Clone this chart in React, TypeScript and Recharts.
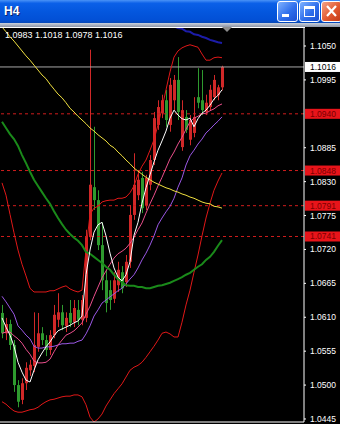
import { ComposedChart, Bar, Line, XAxis, YAxis, ReferenceLine } from 'recharts';

// 76 bar slots fit the plot (4px each); bars only fill the first 56, the rest is chart shift
const SLOT_COUNT = 76;

const candleOpen = [
  1.0617, 1.0584, 1.0599, 1.0565, 1.0500, 1.0476, 1.0503, 1.0524, 1.0531, 1.0562,
  1.0584, 1.0573, 1.0557, 1.0581, 1.0606, 1.0618, 1.0596, 1.0617, 1.0602, 1.0622,
  1.0606, 1.0609, 1.0740, 1.0821, 1.0800, 1.0727, 1.0670, 1.0654, 1.0640, 1.0662,
  1.0683, 1.0667, 1.0700, 1.0776, 1.0808, 1.0836, 1.0792, 1.0825, 1.0865, 1.0922,
  1.0941, 1.0962, 1.0922, 1.0962, 1.0995, 1.0886, 1.0935, 1.0898, 1.0909, 1.0967,
  1.0962, 1.0943, 1.0951, 1.0967, 1.0970, 1.0983
];
const candleHigh = [
  1.0630, 1.0609, 1.0606, 1.0573, 1.0508, 1.0511, 1.0537, 1.0541, 1.0618, 1.0617,
  1.0594, 1.0581, 1.0589, 1.0630, 1.0649, 1.0630, 1.0618, 1.0638, 1.0638, 1.0638,
  1.0646, 1.0752, 1.1044, 1.0919, 1.0816, 1.0764, 1.0687, 1.0670, 1.0683, 1.0700,
  1.0693, 1.0711, 1.0792, 1.0876, 1.0849, 1.0846, 1.0841, 1.0873, 1.0943, 1.0962,
  1.0971, 1.0979, 1.0998, 1.1003, 1.1032, 1.0962, 1.0946, 1.0938, 1.0967, 1.1014,
  1.1011, 1.0971, 1.0987, 1.1003, 1.0987, 1.1018
];
const candleLow = [
  1.0576, 1.0573, 1.0557, 1.0489, 1.0464, 1.0469, 1.0492, 1.0515, 1.0521, 1.0554,
  1.0565, 1.0547, 1.0549, 1.0576, 1.0594, 1.0589, 1.0586, 1.0594, 1.0594, 1.0597,
  1.0597, 1.0602, 1.0735, 1.0784, 1.0719, 1.0654, 1.0618, 1.0622, 1.0633, 1.0651,
  1.0649, 1.0659, 1.0690, 1.0768, 1.0800, 1.0779, 1.0784, 1.0816, 1.0857, 1.0914,
  1.0933, 1.0919, 1.0911, 1.0946, 1.0930, 1.0880, 1.0909, 1.0889, 1.0902, 1.0949,
  1.0938, 1.0938, 1.0946, 1.0962, 1.0962, 1.0978
];
const candleClose = [
  1.0584, 1.0599, 1.0565, 1.0500, 1.0473, 1.0503, 1.0528, 1.0533, 1.0565, 1.0584,
  1.0573, 1.0557, 1.0581, 1.0614, 1.0618, 1.0597, 1.0609, 1.0601, 1.0625, 1.0606,
  1.0638, 1.0740, 1.0825, 1.0800, 1.0727, 1.0670, 1.0633, 1.0638, 1.0670, 1.0687,
  1.0657, 1.0700, 1.0776, 1.0825, 1.0833, 1.0787, 1.0836, 1.0865, 1.0933, 1.0951,
  1.0962, 1.0930, 1.0987, 1.0995, 1.0943, 1.0946, 1.0914, 1.0930, 1.0935, 1.0958,
  1.0946, 1.0958, 1.0979, 1.0995, 1.0983, 1.1016
];

// indicator lines, one value per bar
const maWhite = [
  1.0609, 1.0594, 1.0581, 1.0563, 1.0537, 1.0521, 1.0508, 1.0505, 1.0524, 1.0541,
  1.0552, 1.0562, 1.0570, 1.0580, 1.0588, 1.0591, 1.0594, 1.0597, 1.0601, 1.0604,
  1.0612, 1.0679, 1.0719, 1.0748, 1.0760, 1.0764, 1.0742, 1.0714, 1.0690, 1.0675,
  1.0669, 1.0679, 1.0700, 1.0743, 1.0764, 1.0795, 1.0820, 1.0841, 1.0862, 1.0881,
  1.0896, 1.0912, 1.0933, 1.0946, 1.0938, 1.0932, 1.0930, 1.0933, 1.0919, 1.0932,
  1.0941, 1.0946, 1.0954, 1.0964, 1.0970, 1.0979
];
const maPink = [
  1.0584, 1.0586, 1.0586, 1.0580, 1.0575, 1.0568, 1.0558, 1.0550, 1.0539, 1.0536,
  1.0536, 1.0537, 1.0542, 1.0554, 1.0565, 1.0573, 1.0581, 1.0584, 1.0588, 1.0594,
  1.0601, 1.0615, 1.0628, 1.0644, 1.0659, 1.0674, 1.0685, 1.0696, 1.0706, 1.0713,
  1.0717, 1.0722, 1.0730, 1.0740, 1.0752, 1.0763, 1.0779, 1.0794, 1.0808, 1.0823,
  1.0837, 1.0852, 1.0867, 1.0878, 1.0891, 1.0902, 1.0915, 1.0927, 1.0933, 1.0936,
  1.0940, 1.0941, 1.0945, 1.0948, 1.0953, 1.0956
];
const maPurple = [
  1.0644, 1.0635, 1.0625, 1.0615, 1.0596, 1.0589, 1.0581, 1.0575, 1.0563, 1.0560,
  1.0560, 1.0562, 1.0562, 1.0563, 1.0565, 1.0567, 1.0567, 1.0568, 1.0568, 1.0571,
  1.0573, 1.0583, 1.0596, 1.0612, 1.0622, 1.0633, 1.0638, 1.0643, 1.0648, 1.0653,
  1.0657, 1.0664, 1.0672, 1.0679, 1.0690, 1.0703, 1.0714, 1.0727, 1.0742, 1.0760,
  1.0771, 1.0781, 1.0790, 1.0803, 1.0821, 1.0836, 1.0857, 1.0872, 1.0881, 1.0891,
  1.0899, 1.0909, 1.0915, 1.0922, 1.0928, 1.0935
];
const maGreen = [
  1.0927, 1.0917, 1.0907, 1.0899, 1.0888, 1.0873, 1.0860, 1.0846, 1.0833, 1.0823,
  1.0813, 1.0803, 1.0794, 1.0782, 1.0771, 1.0761, 1.0752, 1.0745, 1.0739, 1.0734,
  1.0727, 1.0716, 1.0713, 1.0708, 1.0703, 1.0698, 1.0692, 1.0687, 1.0679, 1.0672,
  1.0667, 1.0662, 1.0661, 1.0661, 1.0659, 1.0659, 1.0657, 1.0657, 1.0659, 1.0661,
  1.0662, 1.0664, 1.0666, 1.0669, 1.0672, 1.0675, 1.0679, 1.0682, 1.0687, 1.0692,
  1.0696, 1.0703, 1.0708, 1.0716, 1.0726, 1.0735
];
const maYellow = [
  1.1081, 1.1073, 1.1065, 1.1058, 1.1050, 1.1042, 1.1034, 1.1027, 1.1019, 1.1011,
  1.1003, 1.0997, 1.0988, 1.0980, 1.0972, 1.0966, 1.0958, 1.0949, 1.0943, 1.0936,
  1.0930, 1.0924, 1.0917, 1.0912, 1.0906, 1.0901, 1.0896, 1.0889, 1.0885, 1.0878,
  1.0872, 1.0865, 1.0859, 1.0852, 1.0847, 1.0842, 1.0837, 1.0833, 1.0829, 1.0826,
  1.0823, 1.0820, 1.0818, 1.0815, 1.0813, 1.0810, 1.0808, 1.0805, 1.0803, 1.0800,
  1.0797, 1.0795, 1.0794, 1.0790, 1.0789, 1.0787
];
const maBlue = [
  null, null, null, null, null, null, null, null, null, null,
  null, null, null, null, null, null, null, null, null, null,
  null, null, null, null, null, null, null, null, null, null,
  null, null, null, null, null, null, null, null, null, null,
  1.1092, 1.1089, 1.1086, 1.1082, 1.1079, 1.1078, 1.1074, 1.1073, 1.1069, 1.1068,
  1.1065, 1.1063, 1.1060, 1.1058, 1.1056, 1.1055
];
const bandUpper = [
  1.0828, 1.0808, 1.0777, 1.0747, 1.0719, 1.0696, 1.0677, 1.0657, 1.0651, 1.0651,
  1.0651, 1.0651, 1.0653, 1.0653, 1.0656, 1.0659, 1.0661, 1.0656, 1.0653, 1.0651,
  1.0654, 1.0719, 1.0777, 1.0787, 1.0790, 1.0797, 1.0799, 1.0800, 1.0800, 1.0803,
  1.0803, 1.0805, 1.0812, 1.0823, 1.0842, 1.0855, 1.0865, 1.0881, 1.0898, 1.0922,
  1.0949, 1.0979, 1.1008, 1.1032, 1.1042, 1.1047, 1.1050, 1.1052, 1.1050, 1.1048,
  1.1037, 1.1027, 1.1027, 1.1031, 1.1032, 1.1031
];
const bandLower = [
  1.0473, 1.0469, 1.0463, 1.0458, 1.0456, 1.0456, 1.0458, 1.0460, 1.0461, 1.0464,
  1.0469, 1.0473, 1.0476, 1.0477, 1.0479, 1.0481, 1.0482, 1.0482, 1.0484, 1.0484,
  1.0481, 1.0468, 1.0448, 1.0440, 1.0445, 1.0453, 1.0466, 1.0476, 1.0486, 1.0494,
  1.0502, 1.0513, 1.0524, 1.0529, 1.0532, 1.0537, 1.0545, 1.0554, 1.0563, 1.0573,
  1.0584, 1.0586, 1.0583, 1.0578, 1.0578, 1.0602, 1.0630, 1.0654, 1.0683, 1.0711,
  1.0742, 1.0771, 1.0795, 1.0816, 1.0831, 1.0844
];

const priceTicks = [1.1050, 1.0995, 1.0885, 1.0830, 1.0775, 1.0720, 1.0665, 1.0610, 1.0555, 1.0500, 1.0445];
const levelLines = [1.0940, 1.0848, 1.0791, 1.0741];
const bidPrice = 1.1016;
const timeTicks = [14, 30, 46, 62];
const priceDomain = [1.04401, 1.10792];

const FONT = '"Liberation Sans", Arial, sans-serif';
const BULL = '#d02828';
const BEAR = '#2e9a2e';

const last = candleOpen.length - 1;
const ohlcText = [candleOpen[last], candleHigh[last], candleLow[last], candleClose[last]]
  .map(v => v.toFixed(4))
  .join(' ');

const chartData = Array.from({ length: SLOT_COUNT }, (_, i) => ({
  slot: i,
  open: candleOpen[i] ?? null,
  high: candleHigh[i] ?? null,
  low: candleLow[i] ?? null,
  close: candleClose[i] ?? null,
  white: maWhite[i] ?? null,
  pink: maPink[i] ?? null,
  purple: maPurple[i] ?? null,
  green: maGreen[i] ?? null,
  yellow: maYellow[i] ?? null,
  blue: maBlue[i] ?? null,
  upper: bandUpper[i] ?? null,
  lower: bandLower[i] ?? null
}));

const Candle = (props: any) => {
  const { x, y, height, payload } = props;
  const { open, close, high, low } = payload;
  if (open == null || !(height > 0)) return null;
  const k = height / (high - low);
  const py = (v: number) => y + (high - v) * k;
  const color = close >= open ? BULL : BEAR;
  const left = Math.round(x);
  const top = Math.min(py(open), py(close));
  const bodyH = Math.max(1, Math.abs(py(open) - py(close)));
  return (
    <g>
      <rect x={left + 1} y={y} width={1} height={height} fill={color} />
      <rect x={left} y={top} width={3} height={bodyH} fill={color} />
    </g>
  );
};

const PriceTag = ({ viewBox, text, bg, fg }: any) => {
  if (!viewBox) return null;
  const left = viewBox.x + viewBox.width + 1;
  return (
    <g>
      <rect x={left} y={viewBox.y - 5} width={36} height={10} fill={bg} />
      <text x={left + 5} y={viewBox.y} dy="0.35em" fill={fg} fontSize={8.5} fontFamily={FONT}>
        {text}
      </text>
    </g>
  );
};

function WinButton({ left, close, children }: any) {
  return (
    <div
      style={{
        position: 'absolute',
        left,
        top: 1,
        width: 19,
        height: 19,
        border: '1px solid #fff',
        borderRadius: 3,
        background: close
          ? 'linear-gradient(135deg, #f4a487 0%, #e2582f 55%, #c23a18 100%)'
          : 'linear-gradient(135deg, #7fb2ff 0%, #2f6fec 55%, #1b4fd2 100%)'
      }}
    >
      <svg width={19} height={19} style={{ position: 'absolute', left: 0, top: 0 }}>
        {children}
      </svg>
    </div>
  );
}

function TitleBar() {
  return (
    <div
      style={{
        position: 'absolute',
        left: 0,
        top: 0,
        width: 340,
        height: 23,
        background: 'linear-gradient(#4a93f7 0%, #0b60e8 14%, #0457de 50%, #0250d6 85%, #0547b8 100%)'
      }}
    >
      <span
        style={{
          position: 'absolute',
          left: 4,
          top: 4,
          color: '#fff',
          fontWeight: 'bold',
          fontSize: 12,
          lineHeight: '14px',
          fontFamily: FONT,
          textShadow: '1px 1px #0a246a'
        }}
      >
        H4
      </span>
      <WinButton left={277}>
        <rect x={4} y={12} width={7} height={3} fill="#fff" />
      </WinButton>
      <WinButton left={299}>
        <rect x={4.5} y={4.5} width={10} height={10} fill="none" stroke="#fff" strokeWidth={1} />
        <rect x={4} y={4} width={11} height={3} fill="#fff" />
      </WinButton>
      <WinButton left={321} close>
        <path d="M5 4 L14 14 M14 4 L5 14" stroke="#fff" strokeWidth={2.2} />
      </WinButton>
    </div>
  );
}

export default function App() {
  return (
    <div
      style={{
        position: 'absolute',
        left: 0,
        top: 0,
        width: 340,
        height: 424,
        background: '#000',
        overflow: 'hidden',
        fontFamily: FONT
      }}
    >
      <TitleBar />
      <div
        style={{
          position: 'absolute',
          left: 0,
          top: 23,
          width: 340,
          height: 4,
          background: 'linear-gradient(#c9d0dc, #8d95a6)'
        }}
      />
      <div style={{ position: 'absolute', left: 0, top: 27, width: 305, height: 1, background: '#fff' }} />

      <div style={{ position: 'absolute', left: 0, top: 28 }}>
        <ComposedChart
          width={340}
          height={396}
          data={chartData}
          margin={{ top: 0, right: 0, bottom: 0, left: 0 }}
          barCategoryGap={0}
        >
          <XAxis
            dataKey="slot"
            type="category"
            height={2}
            ticks={timeTicks}
            interval={0}
            tick={false}
            tickSize={2}
            axisLine={{ stroke: '#fff' }}
            tickLine={{ stroke: '#fff' }}
          />
          <YAxis
            orientation="right"
            width={36}
            domain={priceDomain}
            allowDataOverflow
            ticks={priceTicks}
            interval={0}
            tickSize={2}
            tickMargin={4}
            axisLine={{ stroke: '#fff' }}
            tickLine={{ stroke: '#fff' }}
            tick={{ fill: '#fff', fontSize: 8.5, fontFamily: FONT }}
            tickFormatter={(v: number) => v.toFixed(4)}
          />

          {levelLines.map(level => (
            <ReferenceLine
              key={level}
              y={level}
              stroke="#d01c1c"
              strokeDasharray="3 3"
              label={{
                content: (p: any) => (
                  <PriceTag viewBox={p.viewBox} text={level.toFixed(4)} bg="#e8141a" fg="#7a0000" />
                )
              }}
            />
          ))}
          <ReferenceLine
            y={bidPrice}
            stroke="#a8a8a8"
            label={{
              content: (p: any) => (
                <PriceTag viewBox={p.viewBox} text={bidPrice.toFixed(4)} bg="#ffffff" fg="#000000" />
              )
            }}
          />

          <Bar
            dataKey={(d: any) => (d.high == null ? null : [d.low, d.high])}
            barSize={3}
            shape={(p: any) => <Candle {...p} />}
            isAnimationActive={false}
          />

          {/* Bollinger bands */}
          <Line dataKey="upper" stroke="#e01818" strokeWidth={1} dot={false} activeDot={false} isAnimationActive={false} />
          <Line dataKey="lower" stroke="#e01818" strokeWidth={1} dot={false} activeDot={false} isAnimationActive={false} />

          {/* moving averages */}
          <Line dataKey="purple" stroke="#9b58e6" strokeWidth={1} dot={false} activeDot={false} isAnimationActive={false} />
          <Line dataKey="pink" stroke="#ea4f8c" strokeWidth={1} dot={false} activeDot={false} isAnimationActive={false} />
          <Line dataKey="green" stroke="#1a8a1a" strokeWidth={2} dot={false} activeDot={false} isAnimationActive={false} />
          <Line dataKey="yellow" stroke="#f0e040" strokeWidth={1} dot={false} activeDot={false} isAnimationActive={false} />
          <Line dataKey="blue" stroke="#1c1ca8" strokeWidth={2} dot={false} activeDot={false} isAnimationActive={false} />
          <Line dataKey="white" stroke="#ffffff" strokeWidth={1} dot={false} activeDot={false} isAnimationActive={false} />
        </ComposedChart>
      </div>

      <span
        style={{
          position: 'absolute',
          left: 5,
          top: 30,
          color: '#fff',
          fontSize: 9,
          lineHeight: '10px',
          fontFamily: FONT,
          whiteSpace: 'pre'
        }}
      >
        {ohlcText}
      </span>

      <svg width={10} height={6} style={{ position: 'absolute', left: 222, top: 27 }}>
        <polygon points="0,0 10,0 5,5" fill="#8c8c8c" />
      </svg>
    </div>
  );
}
